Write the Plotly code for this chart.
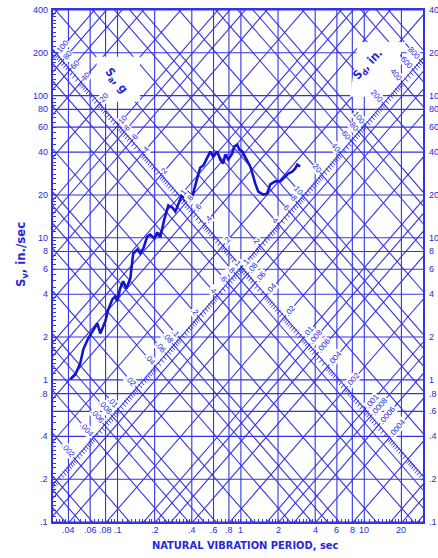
import math
import plotly.graph_objects as go

G = 386.09  # in/sec^2

# ---- response spectrum curve ----
PERIOD = [0.0414, 0.0455, 0.0499, 0.0528, 0.0579, 0.0637, 0.0686, 0.0725, 0.0796, 0.0841,
          0.0907, 0.0959, 0.0995, 0.105, 0.111, 0.118, 0.127, 0.134, 0.145, 0.153,
          0.162, 0.174, 0.184, 0.199, 0.210, 0.222, 0.239, 0.258, 0.278, 0.294,
          0.311, 0.335, 0.354, 0.374, 0.404, 0.427, 0.451, 0.469, 0.496, 0.534,
          0.565, 0.597, 0.643, 0.680, 0.719, 0.746, 0.790, 0.851, 0.883, 0.934,
          0.970, 1.026, 1.084, 1.191, 1.259, 1.306, 1.383, 1.517, 1.635, 1.730,
          1.899, 2.084, 2.203, 2.420, 2.606, 2.757, 2.862, 3.027]
SV = [1.01, 1.09, 1.31, 1.64, 1.96, 2.27, 2.50, 2.12, 2.58, 3.13,
      3.68, 3.87, 3.57, 4.40, 4.93, 4.40, 5.17, 7.75, 8.27, 7.75,
      8.41, 10.2, 10.5, 9.88, 10.9, 10.05, 13.4, 16.9, 16.3, 15.3,
      17.4, 20.1, 18.3, 20.8, 19.5, 23.7, 27.9, 31.2, 32.2, 36.6,
      40.4, 37.2, 40.4, 35.5, 33.3, 38.5, 35.5, 39.1, 43.8, 45.2,
      41.7, 40.4, 37.2, 31.7, 27.0, 24.1, 21.1, 20.1, 20.5, 23.7,
      24.9, 24.9, 26.1, 28.3, 29.2, 30.7, 32.7, 31.7]

# ---- grid values ----
SV_LINES = [0.1, 0.2, 0.4, 0.6, 0.8, 1, 2, 4, 6, 8, 10, 20, 40, 60, 80, 100, 200, 400]
T_LINES = [0.04, 0.06, 0.08, 0.1, 0.2, 0.4, 0.6, 0.8, 1, 2, 4, 6, 8, 10, 20]
MULTS = [1, 2, 4, 6, 8]
SD_LINES = [m * 10.0 ** k for k in range(-4, 4) for m in MULTS]
SA_LINES = [m * 10.0 ** k for k in range(-5, 3) for m in MULTS]
SUBDIV = [1 + 0.1 * i for i in range(10)] + [2 + 0.2 * i for i in range(10)] + [4 + 0.5 * i for i in range(12)]

# ---- tick labels ----
SV_LEFT = [400, 200, 100, 80, 60, 40, 20, 10, 8, 6, 4, 2, 1, 0.8, 0.4, 0.2, 0.1]
SV_LEFT_TEXT = ["400", "200", "100", "80", "60", "40", "20", "10", "8", "6", "4", "2", "1", ".8", ".4", ".2", ".1"]
SV_RIGHT = [400, 200, 100, 80, 60, 40, 20, 10, 8, 6, 4, 2, 1, 0.8, 0.6, 0.4, 0.2, 0.1]
SV_RIGHT_TEXT = ["400", "200", "100", "80", "60", "40", "20", "10", "8", "6", "4", "2", "1", ".8", ".6", ".4", ".2", ".1"]
T_TICKS = [0.04, 0.06, 0.08, 0.1, 0.2, 0.4, 0.6, 0.8, 1, 2, 4, 6, 8, 10, 20]
T_TICK_TEXT = [".04", ".06", ".08", ".1", ".2", ".4", ".6", ".8", "1", "2", "4", "6", "8", "10", "20"]

SA_LABELS = [100, 80, 60, 40, 20, 10, 8, 6, 4, 2, 1, 0.8, 0.6, 0.4, 0.2, 0.1, 0.08, 0.06, 0.04,
             0.02, 0.01, 0.008, 0.006, 0.004, 0.002, 0.001, 0.0008, 0.0006, 0.0004]
SA_LABEL_TEXT = ["100", "80", "60", "40", "20", "10", "8", "6", "4", "2", "1", ".8", ".6", ".4", ".2", ".1",
                 ".08", ".06", ".04", ".02", ".01", ".008", ".006", ".004", ".002", ".001", ".0008", ".0006", ".0004"]
SD_LABELS = [800, 600, 400, 200, 100, 80, 60, 40, 20, 10, 8, 6, 4, 2, 1, 0.8, 0.6, 0.4, 0.2, 0.1,
             0.08, 0.06, 0.04, 0.02, 0.01, 0.008, 0.006, 0.004, 0.002]
SD_LABEL_TEXT = ["800", "600", "400", "200", "100", "80", "60", "40", "20", "10", "8", "6", "4", "2", "1",
                 ".8", ".6", ".4", ".2", ".1", ".08", ".06", ".04", ".02", ".01", ".008", ".006", ".004", ".002"]
SA_SCALE_ON_SD = 1.0   # Sa scale drawn along the Sd = 1 in. line
SD_SCALE_ON_SA = 0.1   # Sd scale drawn along the Sa = 0.1 g line

BLUE = "rgb(52,52,230)"
TXT = "rgb(40,40,215)"
CURVE = "rgb(20,20,205)"

XR = [-1.523, 1.476]
YR = [-1.0, math.log10(400)]
PXW, PXH = 370.0, 514.0
DX = PXW / (XR[1] - XR[0])   # px per decade (x)
DY = PXH / (YR[1] - YR[0])   # px per decade (y)
DIAG = math.hypot(DX, DY)

fig = go.Figure()

def add_lines(xs, ys, width=1.1, color=BLUE):
    fig.add_trace(go.Scatter(x=xs, y=ys, mode="lines", line=dict(color=color, width=width),
                             hoverinfo="skip", showlegend=False))

T0, T1 = 0.02, 45.0
xs, ys = [], []
for v in SV_LINES:
    xs += [T0, T1, None]; ys += [v, v, None]
add_lines(xs, ys)
xs, ys = [], []
for t in T_LINES:
    xs += [t, t, None]; ys += [0.05, 800, None]
add_lines(xs, ys)
xs, ys = [], []
for sd in SD_LINES:
    xs += [T0, T1, None]; ys += [2 * math.pi * sd / T0, 2 * math.pi * sd / T1, None]
add_lines(xs, ys)
xs, ys = [], []
for sa in SA_LINES:
    xs += [T0, T1, None]; ys += [sa * G * T0 / (2 * math.pi), sa * G * T1 / (2 * math.pi), None]
add_lines(xs, ys)

def point(sd, sa):
    t = 2 * math.pi * math.sqrt(sd / (sa * G))
    return t, math.sqrt(sd * sa * G)

# hatched scale lines
xs, ys = [], []
a1, a2 = 4.0 / DIAG, 1.0 / DIAG
for k in range(-5, 3):
    for m in SUBDIV:
        sa = m * 10.0 ** k
        t, v = point(SA_SCALE_ON_SD, sa)
        xs += [t * 10 ** (-a1), t * 10 ** a2, None]; ys += [v * 10 ** (-a1), v * 10 ** a2, None]
for k in range(-4, 4):
    for m in SUBDIV:
        sd = m * 10.0 ** k
        t, v = point(sd, SD_SCALE_ON_SA)
        xs += [t * 10 ** (-a2), t * 10 ** a1, None]; ys += [v * 10 ** a2, v * 10 ** (-a1), None]
add_lines(xs, ys, width=1.0)

# spectrum curve
fig.add_trace(go.Scatter(x=PERIOD, y=SV, mode="lines", line=dict(color=CURVE, width=2.6),
                         showlegend=False, hoverinfo="skip"))

def paper(px, py):
    return (px - 53) / PXW, (522 - py) / PXH

def mask(pts):
    p = [paper(*q) for q in pts]
    path = "M " + " L ".join(f"{x:.4f},{y:.4f}" for x, y in p) + " Z"
    return dict(type="path", xref="paper", yref="paper", path=path, fillcolor="white",
                line=dict(width=0), layer="above")

shapes = [mask([(96, 55), (140, 55), (140, 100), (100, 100)]),
          mask([(358, 40), (406, 40), (382, 95), (350, 95)])]

ann = []
F8 = dict(family="Liberation Sans, Arial, sans-serif", size=8, color=TXT)
F9 = dict(family="Liberation Sans, Arial, sans-serif", size=9, color=TXT)

def txt_len(s):
    return sum(2.2 if c == "." else 4.45 for c in s)

for v, s in zip(SV_LEFT, SV_LEFT_TEXT):
    ann.append(dict(x=0, xref="paper", y=math.log10(v), yref="y", text=s, showarrow=False,
                    xanchor="right", yanchor="middle", xshift=-3, font=F9))
for v, s in zip(SV_RIGHT, SV_RIGHT_TEXT):
    ann.append(dict(x=1, xref="paper", y=math.log10(v), yref="y", text=s, showarrow=False,
                    xanchor="left", yanchor="middle", xshift=4, font=F9))
for v, s in zip(T_TICKS, T_TICK_TEXT):
    ann.append(dict(x=math.log10(v), xref="x", y=0, yref="paper", text=s, showarrow=False,
                    xanchor="center", yanchor="top", yshift=-1, font=F9))

ux, uy = DX / DIAG, DY / DIAG
ang = math.degrees(math.atan2(DY, DX))
for v, s in zip(SA_LABELS, SA_LABEL_TEXT):
    t, sv = point(SA_SCALE_ON_SD, v)
    d = 3 + txt_len(s) / 2
    ann.append(dict(x=math.log10(t), y=math.log10(sv), xref="x", yref="y", text=s, showarrow=False,
                    xanchor="center", yanchor="middle",
                    textangle=-ang, xshift=d * ux, yshift=d * uy,
                    font=F8, bgcolor="white", borderpad=0))
for v, s in zip(SD_LABELS, SD_LABEL_TEXT):
    t, sv = point(v, SD_SCALE_ON_SA)
    d = 3 + txt_len(s) / 2
    ann.append(dict(x=math.log10(t), y=math.log10(sv), xref="x", yref="y", text=s, showarrow=False,
                    xanchor="center", yanchor="middle",
                    textangle=ang, xshift=-d * ux, yshift=d * uy,
                    font=F8, bgcolor="white", borderpad=0))

FB = dict(family="DejaVu Sans Condensed, DejaVu Sans, sans-serif", size=12, color=TXT)
CEN = dict(xanchor="center", yanchor="middle", showarrow=False, xref="paper", yref="paper")
px_, py_ = paper(116, 79)
ann.append(dict(x=px_, y=py_, text="<b>S<sub>a</sub>, g</b>", textangle=52, font=FB, **CEN))
px_, py_ = paper(368, 63)
ann.append(dict(x=px_, y=py_, text="<b>S<sub>d</sub>, in.</b>", textangle=-47, font=FB, **CEN))
px_, py_ = paper(21, 254)
ann.append(dict(x=px_, y=py_, text="<b>S<sub>v</sub>, in./sec</b>", textangle=-90,
                font=dict(family="DejaVu Sans Condensed, DejaVu Sans, sans-serif", size=13, color=TXT), **CEN))
px_, py_ = paper(245, 546)
ann.append(dict(x=px_, y=py_, text="<b>NATURAL VIBRATION PERIOD, sec</b>",
                font=dict(family="DejaVu Sans Condensed, DejaVu Sans, sans-serif", size=11, color=TXT), **CEN))

minor_t = [m * 10.0 ** k for k in range(-2, 2) for m in SUBDIV]
minor_v = [m * 10.0 ** k for k in range(-1, 3) for m in SUBDIV]

axis_common = dict(type="log", showgrid=False, zeroline=False, showline=True, linecolor=BLUE,
                   linewidth=1.6, mirror=True, ticks="inside", ticklen=3, tickcolor=BLUE,
                   tickwidth=1, showticklabels=False)

fig.update_layout(
    width=438, height=558,
    margin=dict(l=53, r=15, t=8, b=36),
    paper_bgcolor="white", plot_bgcolor="white",
    xaxis=dict(range=XR, tickvals=minor_t, **axis_common),
    yaxis=dict(range=YR, tickvals=minor_v, **axis_common),
    shapes=shapes, annotations=ann, showlegend=False,
)

fig.write_html("out.html", config={"displayModeBar": False},
               post_script="document.body.style.margin='0px';document.body.style.overflow='hidden';")
